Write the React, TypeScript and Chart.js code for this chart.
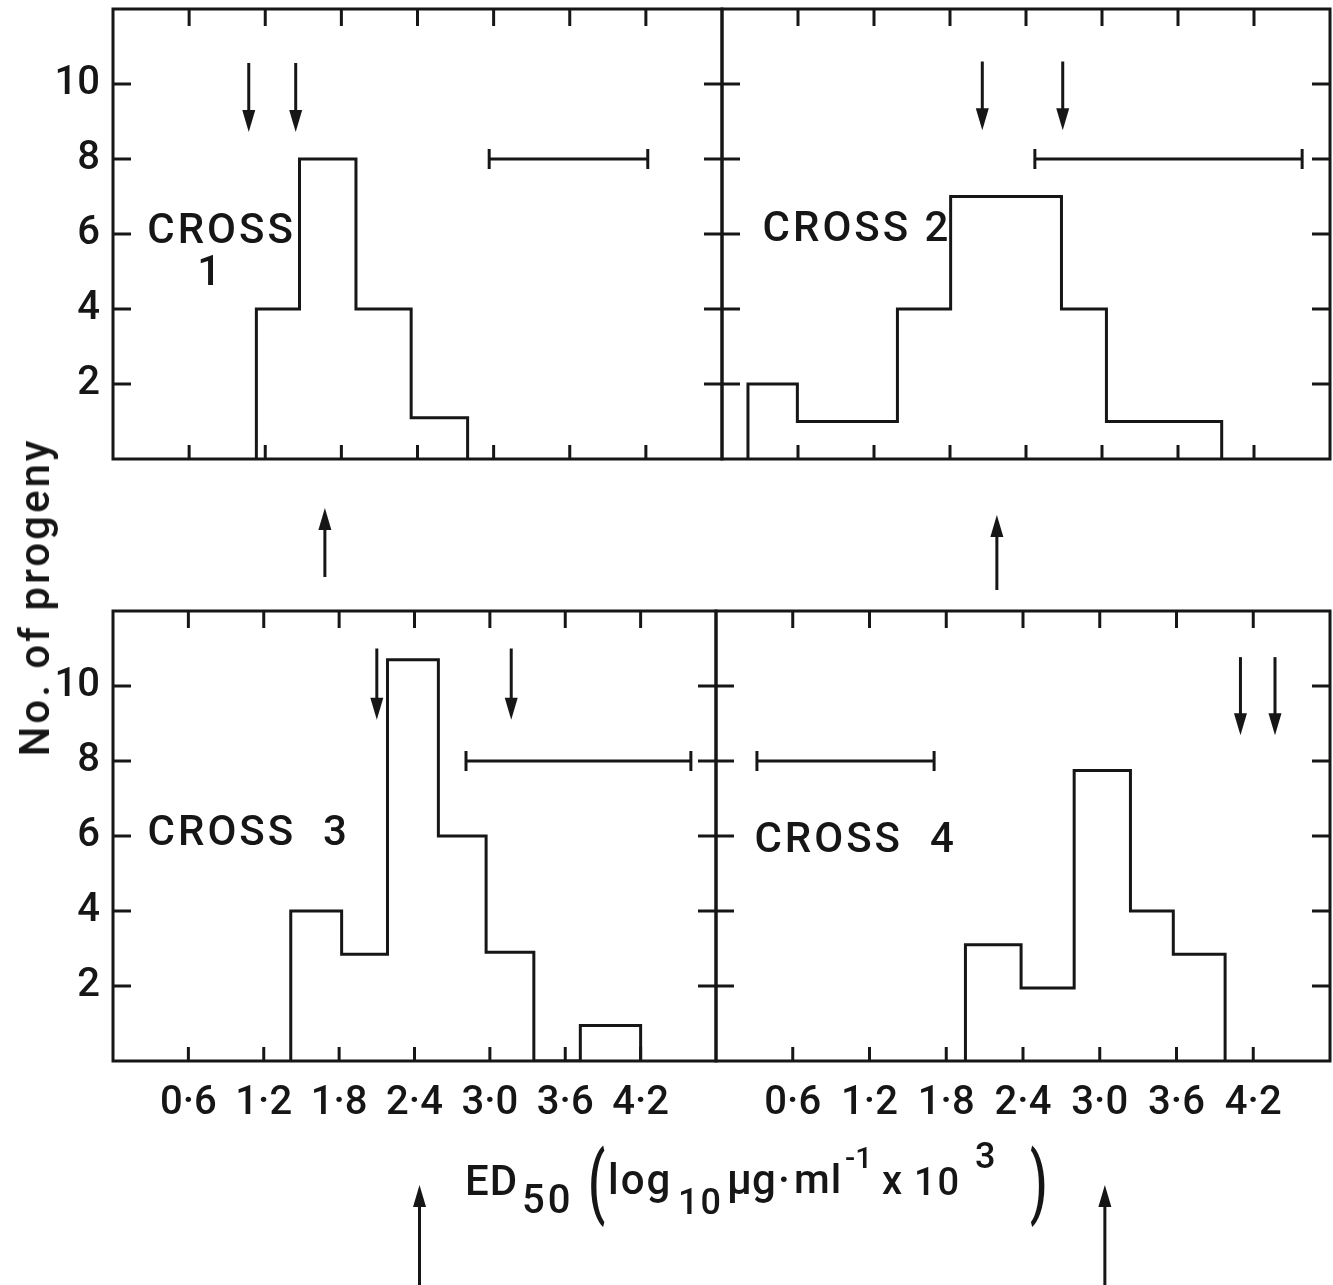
import React, { useEffect, useRef } from 'react';
import { Chart, registerables } from 'chart.js';

Chart.register(...registerables);

const FONT = 'Roboto';
const WEIGHT = 500;
const INK = '#161616';

// Axes
const X_TICKS = [0.6, 1.2, 1.8, 2.4, 3.0, 3.6, 4.2];
const Y_TICKS = [2, 4, 6, 8, 10];
const X_MIN = 0;
const X_MAX = 4.8;
const Y_MIN = 0;
const Y_MAX = 12;
const RANGE_LEVEL = 8;

// Cross 1
const CROSS1_EDGES = [1.13, 1.47, 1.915, 2.35, 2.795];
const CROSS1_COUNTS = [4, 8, 4, 1.1];
const CROSS1_PARENTS = [1.07, 1.44];
const CROSS1_RANGE = [2.965, 4.215];
const CROSS1_MEAN = 1.67;

// Cross 2
const CROSS2_EDGES = [0.205, 0.595, 1.385, 1.805, 2.68, 3.035, 3.945];
const CROSS2_COUNTS = [2, 1, 4, 7, 4, 1];
const CROSS2_PARENTS = [2.055, 2.69];
const CROSS2_RANGE = [2.47, 4.58];
const CROSS2_MEAN = 2.17;

// Cross 3
const CROSS3_EDGES = [1.415, 1.82, 2.185, 2.59, 2.97, 3.35, 3.72, 4.2];
const CROSS3_COUNTS = [4, 2.85, 10.7, 6, 2.9, 0, 0.95];
const CROSS3_PARENTS = [2.1, 3.17];
const CROSS3_RANGE = [2.81, 4.6];
const CROSS3_MEAN = 2.44;

// Cross 4
const CROSS4_EDGES = [1.95, 2.385, 2.8, 3.24, 3.575, 3.98];
const CROSS4_COUNTS = [3.1, 1.95, 7.75, 4.0, 2.85];
const CROSS4_PARENTS = [4.1, 4.37];
const CROSS4_RANGE = [0.32, 1.705];
const CROSS4_MEAN = 3.04;

// Axis titles
const Y_TITLE = 'No. of progeny';
const X_TITLE_PARTS = ['ED', '50', '(', 'log', '10', 'μg', '·', 'ml', '-1', 'x', '10', '3', ')'];

type Label = { text: string; x: number; y: number; align: CanvasTextAlign };
type Panel = {
  id: string;
  box: { left: number; top: number; width: number; height: number };
  padding: { left: number; top: number; right: number; bottom: number };
  yLabels: boolean;
  xLabels: boolean;
  edges: number[];
  counts: number[];
  parents: number[];
  arrowFrom: number;
  arrowTo: number;
  range: number[];
  mean: number;
  meanTip: number;
  meanBase: number;
  labels: Label[];
};

const PANELS: Panel[] = [
  {
    id: 'c1',
    box: { left: 0, top: 0, width: 734, height: 600 },
    padding: { left: 0, top: 9, right: 12, bottom: 141 },
    yLabels: true,
    xLabels: false,
    edges: CROSS1_EDGES,
    counts: CROSS1_COUNTS,
    parents: CROSS1_PARENTS,
    arrowFrom: 10.56,
    arrowTo: 8.72,
    range: CROSS1_RANGE,
    mean: CROSS1_MEAN,
    meanTip: 49,
    meanBase: 118,
    labels: [
      { text: 'CROSS', x: 0.27, y: 6.05, align: 'left' },
      { text: '1', x: 0.77, y: 4.92, align: 'center' },
    ],
  },
  {
    id: 'c2',
    box: { left: 708, top: 0, width: 625, height: 600 },
    padding: { left: 14, top: 9, right: 3, bottom: 141 },
    yLabels: false,
    xLabels: false,
    edges: CROSS2_EDGES,
    counts: CROSS2_COUNTS,
    parents: CROSS2_PARENTS,
    arrowFrom: 10.6,
    arrowTo: 8.77,
    range: CROSS2_RANGE,
    mean: CROSS2_MEAN,
    meanTip: 56,
    meanBase: 131,
    labels: [{ text: 'CROSS 2', x: 0.32, y: 6.1, align: 'left' }],
  },
  {
    id: 'c3',
    box: { left: 0, top: 570, width: 728, height: 715 },
    padding: { left: 0, top: 41, right: 12, bottom: 154 },
    yLabels: true,
    xLabels: true,
    edges: CROSS3_EDGES,
    counts: CROSS3_COUNTS,
    parents: CROSS3_PARENTS,
    arrowFrom: 11.0,
    arrowTo: 9.1,
    range: CROSS3_RANGE,
    mean: CROSS3_MEAN,
    meanTip: 124,
    meanBase: 230,
    labels: [{ text: 'CROSS  3', x: 0.275, y: 6.05, align: 'left' }],
  },
  {
    id: 'c4',
    box: { left: 702, top: 570, width: 631, height: 715 },
    padding: { left: 14, top: 41, right: 3, bottom: 154 },
    yLabels: false,
    xLabels: true,
    edges: CROSS4_EDGES,
    counts: CROSS4_COUNTS,
    parents: CROSS4_PARENTS,
    arrowFrom: 10.77,
    arrowTo: 8.69,
    range: CROSS4_RANGE,
    mean: CROSS4_MEAN,
    meanTip: 124,
    meanBase: 230,
    labels: [{ text: 'CROSS  4', x: 0.3, y: 5.86, align: 'left' }],
  },
];

function fmtTick(v: number): string {
  return Number(v).toFixed(1).replace('.', '·');
}

function stepPoints(edges: number[], counts: number[]) {
  const pts: { x: number; y: number }[] = [{ x: edges[0], y: 0 }];
  counts.forEach((c, i) => pts.push({ x: edges[i], y: c }));
  pts.push({ x: edges[edges.length - 1], y: 0 });
  return pts;
}

function arrow(ctx: CanvasRenderingContext2D, x: number, from: number, tip: number) {
  const dir = tip > from ? 1 : -1;
  const head = 22;
  const half = 6.5;
  ctx.beginPath();
  ctx.moveTo(x, from);
  ctx.lineTo(x, tip - dir * (head - 2));
  ctx.stroke();
  ctx.beginPath();
  ctx.moveTo(x - half, tip - dir * head);
  ctx.lineTo(x + half, tip - dir * head);
  ctx.lineTo(x, tip);
  ctx.closePath();
  ctx.fill();
}

function decorPlugin(p: Panel) {
  return {
    id: 'decor_' + p.id,
    afterDatasetsDraw(chart: any) {
      const { ctx, chartArea: a } = chart;
      const xs = chart.scales.x;
      const ys = chart.scales.y;
      ctx.save();
      ctx.strokeStyle = INK;
      ctx.fillStyle = INK;
      ctx.lineWidth = 3;
      ctx.lineCap = 'butt';
      ctx.lineJoin = 'miter';
      const seg = (x1: number, y1: number, x2: number, y2: number) => {
        ctx.beginPath();
        ctx.moveTo(x1, y1);
        ctx.lineTo(x2, y2);
        ctx.stroke();
      };
      // frame
      ctx.strokeRect(a.left, a.top, a.right - a.left, a.bottom - a.top);
      // inward ticks on all four sides
      for (const v of X_TICKS) {
        const px = xs.getPixelForValue(v);
        seg(px, a.top, px, a.top + 17);
        seg(px, a.bottom, px, a.bottom - 14);
      }
      for (const v of Y_TICKS) {
        const py = ys.getPixelForValue(v);
        seg(a.left, py, a.left + 18, py);
        seg(a.right, py, a.right - 18, py);
      }
      // parental arrows
      for (const v of p.parents) {
        arrow(ctx, xs.getPixelForValue(v), ys.getPixelForValue(p.arrowFrom), ys.getPixelForValue(p.arrowTo));
      }
      // range bar
      const ry = ys.getPixelForValue(RANGE_LEVEL);
      const r0 = xs.getPixelForValue(p.range[0]);
      const r1 = xs.getPixelForValue(p.range[1]);
      seg(r0, ry, r1, ry);
      seg(r0, ry - 10, r0, ry + 10);
      seg(r1, ry - 10, r1, ry + 10);
      // arrow below the panel
      const mx = xs.getPixelForValue(p.mean);
      arrow(ctx, mx, a.bottom + p.meanBase, a.bottom + p.meanTip);
      // panel labels
      ctx.font = `${WEIGHT} 42px ${FONT}`;
      ctx.textBaseline = 'middle';
      (ctx as any).letterSpacing = '3px';
      for (const l of p.labels) {
        ctx.textAlign = l.align;
        ctx.fillText(l.text, xs.getPixelForValue(l.x), ys.getPixelForValue(l.y));
      }
      ctx.restore();
    },
  };
}

function PanelChart({ p }: { p: Panel }) {
  const ref = useRef<HTMLCanvasElement | null>(null);
  useEffect(() => {
    if (!ref.current) return;
    const tickFont = { family: FONT, size: 40, weight: WEIGHT };
    const chart = new Chart(ref.current, {
      type: 'line',
      data: {
        datasets: [
          {
            data: stepPoints(p.edges, p.counts),
            stepped: 'before',
            borderColor: INK,
            borderWidth: 3,
            pointRadius: 0,
            fill: false,
            tension: 0,
            borderJoinStyle: 'miter',
            borderCapStyle: 'butt',
          } as any,
        ],
      },
      options: {
        animation: false,
        responsive: false,
        devicePixelRatio: 1,
        events: [],
        layout: { padding: p.padding },
        plugins: { legend: { display: false }, tooltip: { enabled: false }, title: { display: false } },
        scales: {
          x: {
            type: 'linear',
            min: X_MIN,
            max: X_MAX,
            display: p.xLabels,
            grid: { display: false, drawTicks: false },
            border: { display: false },
            ticks: {
              font: tickFont,
              color: INK,
              padding: 19,
              maxRotation: 0,
              autoSkip: false,
              callback: (v: any) => fmtTick(v),
            },
            afterBuildTicks: (s: any) => {
              s.ticks = X_TICKS.map((v) => ({ value: v }));
            },
            afterFit: (s: any) => {
              if (p.xLabels) {
                s.height = 70;
                s.paddingLeft = 0;
                s.paddingRight = 0;
              }
            },
          },
          y: {
            type: 'linear',
            min: Y_MIN,
            max: Y_MAX,
            display: p.yLabels,
            grid: { display: false, drawTicks: false },
            border: { display: false },
            ticks: { font: tickFont, color: INK, padding: 13 },
            afterBuildTicks: (s: any) => {
              s.ticks = Y_TICKS.map((v) => ({ value: v }));
            },
            afterFit: (s: any) => {
              if (p.yLabels) {
                s.width = 113;
                s.paddingTop = 0;
                s.paddingBottom = 0;
              }
            },
          },
        },
      } as any,
      plugins: [decorPlugin(p)],
    });
    return () => chart.destroy();
  }, [p]);
  return (
    <canvas
      ref={ref}
      width={p.box.width}
      height={p.box.height}
      style={{ position: 'absolute', left: p.box.left, top: p.box.top, width: p.box.width, height: p.box.height }}
    />
  );
}

// One text piece placed by its left edge and baseline.
function Piece({
  text,
  left,
  baseline,
  size,
  spacing = 0,
  stretch = 1,
}: {
  text: string;
  left: number;
  baseline: number;
  size: number;
  spacing?: number;
  stretch?: number;
}) {
  const top = baseline - 0.842 * size;
  return (
    <div
      style={{
        position: 'absolute',
        left,
        top,
        fontSize: size,
        lineHeight: `${size}px`,
        letterSpacing: `${spacing}px`,
        whiteSpace: 'nowrap',
        fontWeight: WEIGHT,
        transform: stretch !== 1 ? `scaleY(${stretch})` : undefined,
        transformOrigin: `50% ${0.55 * size}px`,
      }}
    >
      {text}
    </div>
  );
}

export default function App() {
  const [ED, SUB50, LP, LOG, SUB10, MUG, DOT, ML, SUPM1, X, TEN, SUP3, RP] = X_TITLE_PARTS;
  return (
    <div
      style={{
        position: 'absolute',
        left: 0,
        top: 0,
        width: 1333,
        height: 1285,
        overflow: 'hidden',
        background: '#ffffff',
        color: INK,
        fontFamily: FONT,
      }}
    >
      {PANELS.map((p) => (
        <PanelChart key={p.id} p={p} />
      ))}
      <div
        style={{
          position: 'absolute',
          left: 35,
          top: 597,
          transform: 'translate(-50%, -50%) rotate(-90deg)',
          fontSize: 42,
          fontWeight: WEIGHT,
          letterSpacing: '3px',
          whiteSpace: 'nowrap',
          lineHeight: '48px',
        }}
      >
        {Y_TITLE}
      </div>
      <Piece text={ED} left={465} baseline={1195} size={42} spacing={1} />
      <Piece text={SUB50} left={522} baseline={1214} size={40} spacing={3} />
      <Piece text={LP} left={588} baseline={1200} size={50} stretch={1.6} />
      <Piece text={LOG} left={608} baseline={1194} size={42} spacing={2} />
      <Piece text={SUB10} left={678} baseline={1214} size={36} spacing={2} />
      <Piece text={MUG} left={727} baseline={1194} size={42} />
      <Piece text={DOT} left={778} baseline={1194} size={42} />
      <Piece text={ML} left={794} baseline={1194} size={41} spacing={1} />
      <Piece text={SUPM1} left={845} baseline={1168} size={30} />
      <Piece text={X} left={882} baseline={1195} size={40} />
      <Piece text={TEN} left={914} baseline={1195} size={38} spacing={2} />
      <Piece text={SUP3} left={975} baseline={1168} size={36} />
      <Piece text={RP} left={1030} baseline={1200} size={50} stretch={1.6} />
    </div>
  );
}
